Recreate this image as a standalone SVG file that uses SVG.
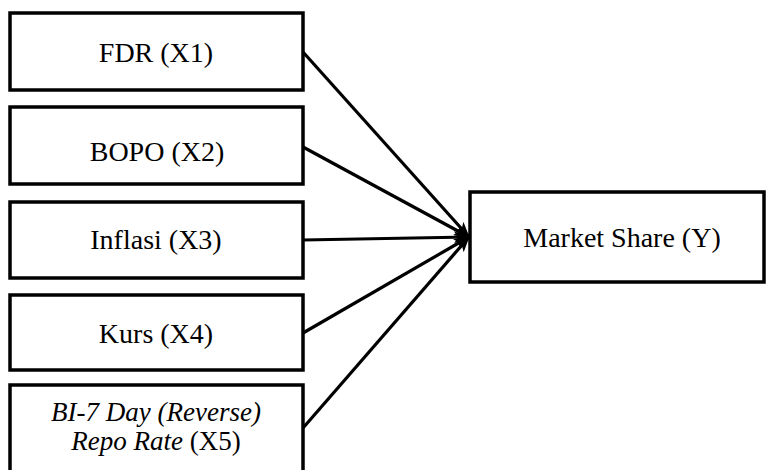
<svg xmlns="http://www.w3.org/2000/svg" width="767" height="470" viewBox="0 0 767 470">
<defs>
<style>
.box{fill:#fff;stroke:#000;stroke-width:3.5}
.t{font-family:"Liberation Serif","Times New Roman",serif;font-size:28px;fill:#000;text-anchor:middle}
.s{font-size:27px}
.i{font-style:italic}
.c{fill:none;stroke:#000;stroke-width:3.2}
</style>
<marker id="ah" viewBox="0 0 16 12" refX="15" refY="6" markerWidth="16" markerHeight="12" markerUnits="userSpaceOnUse" orient="auto">
<path d="M0,0 L16,6 L0,12 L4,6 Z" fill="#000"/>
</marker>
</defs>
<rect width="767" height="470" fill="#fff"/>
<g id="connectors">
<line class="c" x1="303" y1="52" x2="469" y2="237" marker-end="url(#ah)"/>
<line class="c" x1="303" y1="147" x2="469" y2="237" marker-end="url(#ah)"/>
<line class="c" x1="303" y1="240" x2="469" y2="237" marker-end="url(#ah)"/>
<line class="c" x1="303" y1="333" x2="469" y2="237" marker-end="url(#ah)"/>
<line class="c" x1="303" y1="428" x2="469" y2="237" marker-end="url(#ah)"/>
</g>
<g id="x1">
<rect class="box" x="10" y="13" width="293" height="77"/>
<text class="t" x="156" y="62">FDR (X1)</text>
</g>
<g id="x2">
<rect class="box" x="10" y="107" width="293" height="77"/>
<text class="t" x="157" y="161">BOPO (X2)</text>
</g>
<g id="x3">
<rect class="box" x="10" y="202" width="293" height="76"/>
<text class="t" x="156" y="249">Inflasi (X3)</text>
</g>
<g id="x4">
<rect class="box" x="10" y="295" width="293" height="75"/>
<text class="t" x="156" y="343">Kurs (X4)</text>
</g>
<g id="x5">
<rect class="box" x="10" y="385" width="293" height="95"/>
<text class="t s i" x="156" y="421">BI-7 Day (Reverse)</text>
<text class="t s" x="156" y="450"><tspan class="i">Repo Rate</tspan> (X5)</text>
</g>
<g id="y">
<rect class="box" x="470" y="192" width="294" height="90"/>
<text class="t" x="622" y="247">Market Share (Y)</text>
</g>
</svg>
